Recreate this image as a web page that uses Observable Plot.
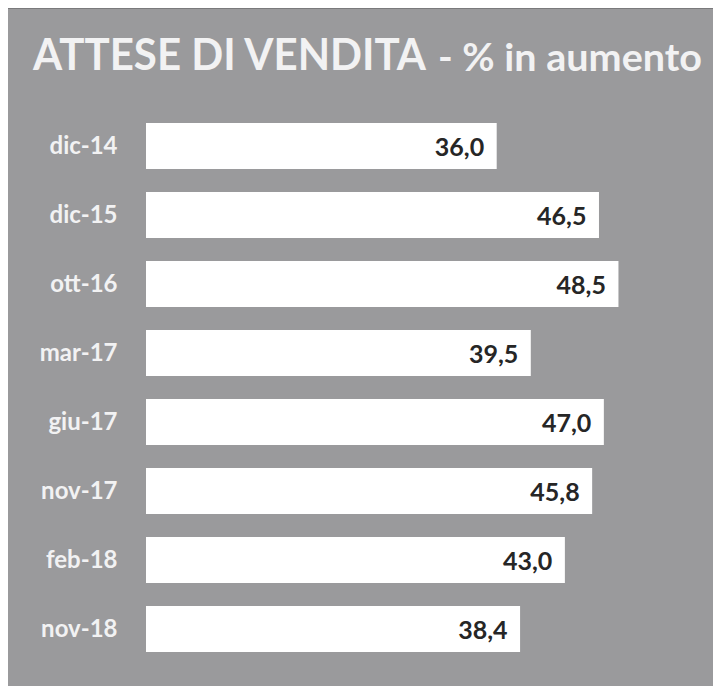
<!DOCTYPE html>
<html>
<head>
<meta charset="utf-8">
<script src="https://cdn.jsdelivr.net/npm/d3@7"></script>
<script src="https://cdn.jsdelivr.net/npm/@observablehq/plot@0.6"></script>
<style>
  html, body { margin: 0; padding: 0; background: #ffffff; }
  #panel {
    position: absolute; left: 8px; top: 8px; width: 705px; height: 678px;
    background: #9a9a9c; border-top: 1px solid #7a7a7c; box-sizing: border-box;
  }
  #title { position: absolute; left: 0; top: 0; }
  #chart { position: absolute; left: 0; top: 99px; }
</style>
</head>
<body>
<div id="panel">
  <svg id="title" width="705" height="99" xmlns="http://www.w3.org/2000/svg">
    <text x="25" y="61" font-family="Lato, 'Open Sans', sans-serif" font-weight="700" font-size="43" fill="#f2f2f3" textLength="393" lengthAdjust="spacingAndGlyphs">ATTESE DI VENDITA</text>
    <text x="430" y="61.5" font-family="Lato, 'Open Sans', sans-serif" font-weight="700" font-size="38" fill="#f2f2f3" textLength="264" lengthAdjust="spacingAndGlyphs">- % in aumento</text>
  </svg>
  <div id="chart"></div>
</div>
<script>
const periods = ["dic-14", "dic-15", "ott-16", "mar-17", "giu-17", "nov-17", "feb-18", "nov-18"];
const values = [36.0, 46.5, 48.5, 39.5, 47.0, 45.8, 43.0, 38.4];

const data = periods.map((p, i) => ({period: p, value: values[i]}));
const fmt = v => d3.format(".1f")(v).replace(".", ",");

const chart = Plot.plot({
  width: 705,
  height: 578,
  marginLeft: 138,
  marginRight: 2,
  marginTop: 12,
  marginBottom: 30,
  style: {fontFamily: "Lato, 'Open Sans', sans-serif", background: "transparent", overflow: "visible"},
  x: {domain: [0, 58], axis: null},
  y: {domain: periods, paddingInner: 0.327, paddingOuter: 0, axis: null},
  marks: [
    Plot.barX(data, {x: "value", y: "period", fill: "#ffffff"}),
    Plot.axisY({tickSize: 0, tickPadding: 29, fontSize: 24, fontWeight: "bold", color: "#f2f2f3", label: null}),
    Plot.text(data, {
      x: "value", y: "period", text: d => fmt(d.value),
      textAnchor: "end", dx: -13, dy: 1,
      fontSize: 25, fontWeight: "bold", fill: "#262626"
    })
  ]
});
document.getElementById("chart").appendChild(chart);
</script>
</body>
</html>
